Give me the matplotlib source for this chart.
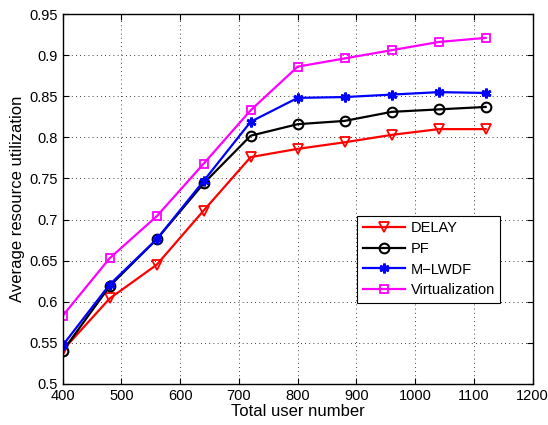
import matplotlib
matplotlib.use('Agg')
import matplotlib.pyplot as plt

plt.rcParams['font.family'] = ['Liberation Sans', 'DejaVu Sans']

# Total user number
users = [400, 480, 560, 640, 720, 800, 880, 960, 1040, 1120]

# Average resource utilization per scheduler
delay = [0.541, 0.604, 0.645, 0.711, 0.776, 0.786, 0.794, 0.803, 0.810, 0.810]
pf = [0.540, 0.619, 0.676, 0.744, 0.802, 0.816, 0.820, 0.831, 0.834, 0.837]
mlwdf = [0.547, 0.621, 0.676, 0.747, 0.819, 0.848, 0.849, 0.852, 0.855, 0.854]
virtualization = [0.583, 0.653, 0.704, 0.768, 0.833, 0.886, 0.896, 0.906, 0.916, 0.921]

fig = plt.figure(figsize=(5.48, 4.25), dpi=100)
ax = fig.add_axes([0.1144, 0.0965, 0.8576, 0.8705])

ax.plot(users, delay, color='red', marker='v', markersize=7, markerfacecolor='none',
        markeredgewidth=1.3, linewidth=1.6, label='DELAY')
ax.plot(users, pf, color='black', marker='o', markersize=7, markerfacecolor='none',
        markeredgewidth=1.5, linewidth=1.6, label='PF')
ax.plot(users, mlwdf, color='blue', marker=(6, 2, 0), markersize=7, markeredgewidth=2,
        linewidth=1.6, label='M\u2212LWDF')
ax.plot(users, virtualization, color='magenta', marker='s', markersize=6, markerfacecolor='none',
        markeredgewidth=1.3, linewidth=1.6, label='Virtualization')

ax.set_xlim(400, 1200)
ax.set_ylim(0.5, 0.95)
ax.set_xticks(range(400, 1201, 100))
ax.set_yticks([0.5, 0.55, 0.6, 0.65, 0.7, 0.75, 0.8, 0.85, 0.9, 0.95])
ax.set_yticklabels(['0.5', '0.55', '0.6', '0.65', '0.7', '0.75', '0.8', '0.85', '0.9', '0.95'])
ax.tick_params(direction='in', top=True, right=True, labelsize=10.5, length=4)
ax.grid(True, color='black', linestyle=(0, (1, 4)), linewidth=0.6)
for s in ax.spines.values():
    s.set_linewidth(1.0)

ax.set_xlabel('Total user number', fontsize=12, labelpad=1)
ax.set_ylabel('Average resource utilization', fontsize=12, labelpad=3)

leg = ax.legend(loc='lower left', bbox_to_anchor=(0.626, 0.219, 0.304, 0.232), mode='expand',
                fontsize=10.5, fancybox=False, framealpha=1, edgecolor='black',
                borderaxespad=0, handlelength=2.9, handletextpad=0.4, borderpad=0.4,
                labelspacing=0.45)
leg.get_frame().set_linewidth(0.8)

fig.savefig('out.png', dpi=100)
